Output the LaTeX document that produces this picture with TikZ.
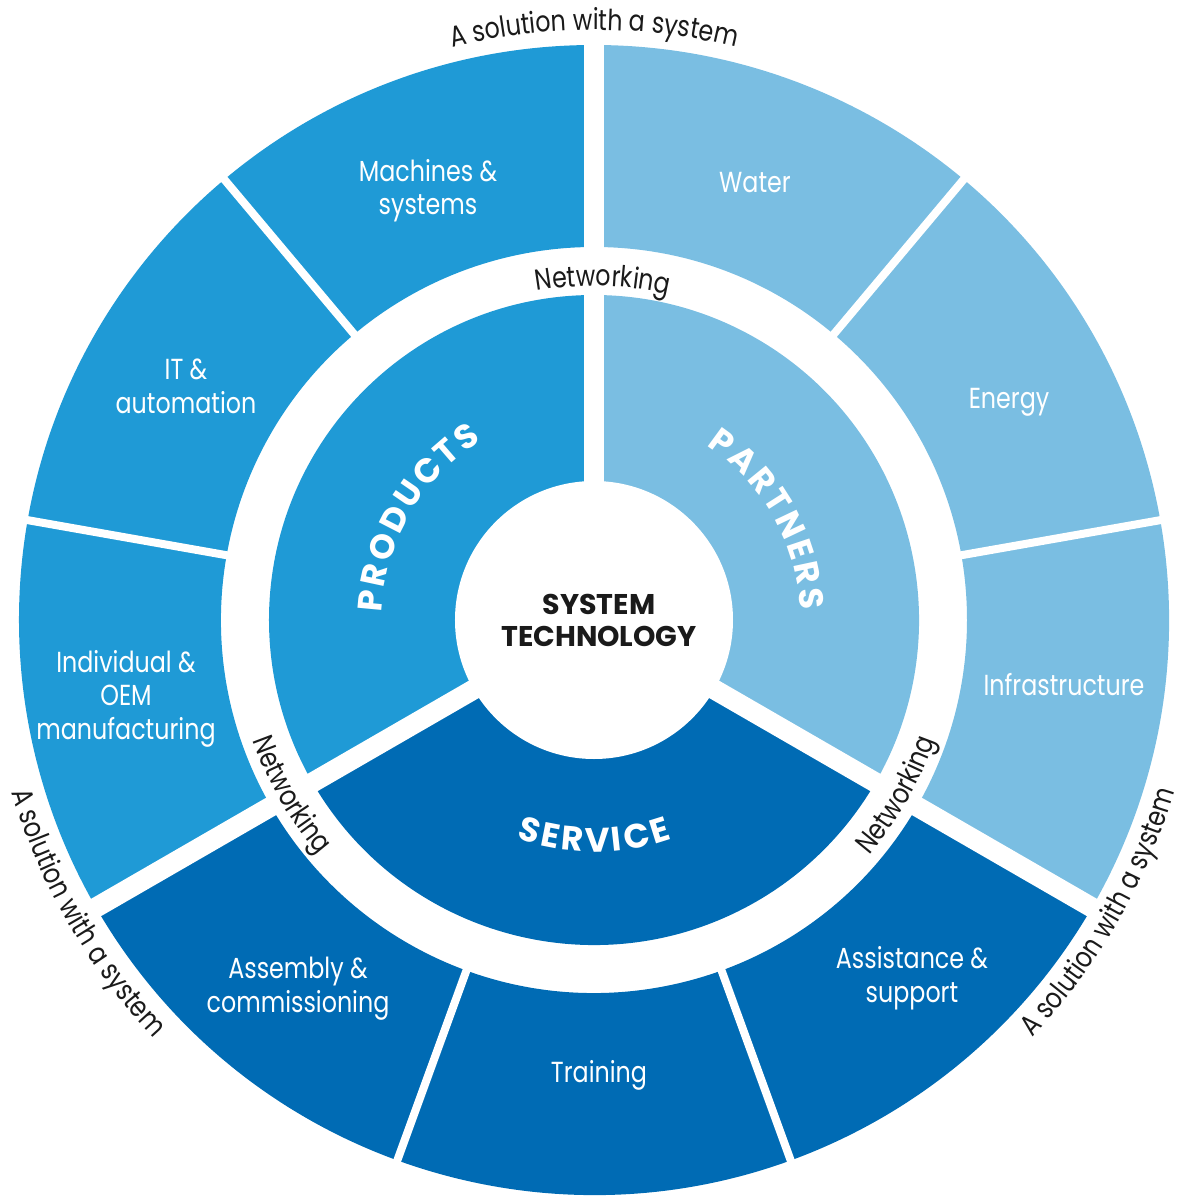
\documentclass[tikz,border=0pt]{standalone}
\usepackage{fontspec}
\setmainfont{Poppins}[FakeStretch=0.82]
\newfontfamily\headfam{Poppins}
\usetikzlibrary{decorations.text}
\definecolor{prodblue}{HTML}{1F9AD6}
\definecolor{partblue}{HTML}{7ABEE2}
\definecolor{servblue}{HTML}{006BB4}
\definecolor{inkblack}{HTML}{1A1A1A}
\newcommand\lbfont{\fontsize{29bp}{33.5bp}\selectfont}
\newcommand\hdfont{\headfam\fontsize{34bp}{38bp}\selectfont\bfseries}
\newcommand\ctfont{\headfam\fontsize{28.5bp}{32bp}\selectfont\bfseries}
\begin{document}
\begin{tikzpicture}[x=1bp,y=1bp,
  seglabel/.style={text=white, font=\lbfont, align=center, anchor=base, inner sep=0pt},
  curvetext/.style={decorate, decoration={text along path, text align=center, text color=inkblack, text={#1}}},
  headtext/.style={decorate, decoration={text along path, text align=center, text color=white, text={#1}}},
  gapmain/.style={white, line width=20bp},
  gapminor/.style={white, line width=8bp}]
\useasboundingbox (-594,-577) rectangle (590,620);
% inner ring sectors
\fill[prodblue] (90:325bp) arc[start angle=90,end angle=210,radius=325bp] -- (0,0) -- cycle;
\fill[partblue] (-30:325bp) arc[start angle=-30,end angle=90,radius=325bp] -- (0,0) -- cycle;
\fill[servblue] (210:325bp) arc[start angle=210,end angle=330,radius=325bp] -- (0,0) -- cycle;
% outer ring sectors
\fill[prodblue] (90:373bp) -- (90:575bp) arc[start angle=90,end angle=210,radius=575bp] -- (210:373bp) arc[start angle=210,end angle=90,radius=373bp] -- cycle;
\fill[partblue] (-30:373bp) -- (-30:575bp) arc[start angle=-30,end angle=90,radius=575bp] -- (90:373bp) arc[start angle=90,end angle=-30,radius=373bp] -- cycle;
\fill[servblue] (210:373bp) -- (210:575bp) arc[start angle=210,end angle=330,radius=575bp] -- (330:373bp) arc[start angle=330,end angle=210,radius=373bp] -- cycle;
% separators
\foreach \a in {90,210,330} \draw[gapmain] (0,0) -- (\a:580bp);
\foreach \a in {10,50,130,170,250,290} \draw[gapminor] (\a:365bp) -- (\a:580bp);
% centre
\fill[white] (0,0) circle[radius=139bp];
\node[font=\ctfont, text=inkblack, align=center, inner sep=0pt] (centre) at (5,0) {SYSTEM\\TECHNOLOGY};
% segment labels (base = baseline of last line)
\node[seglabel] (machines) at (-166,405) {Machines \&\\systems};
\node[seglabel] (water) at (161,427) {Water};
\node[seglabel] (itauto) at (-408,207) {IT \&\\automation};
\node[seglabel] (energy) at (415,212) {Energy};
\node[seglabel] (oem) at (-468,-119) {Individual \&\\OEM\\manufacturing};
\node[seglabel] (infra) at (470,-75) {Infrastructure};
\node[seglabel] (assembly) at (-296,-392) {Assembly \&\\commissioning};
\node[seglabel] (training) at (5,-462) {Training};
\node[seglabel] (assist) at (318,-382) {Assistance \&\\support};
% sector headings
\path[headtext={|\hdfont|{P\kern3bp}{R\kern3bp}{O\kern3bp}{D\kern3bp}{U\kern3bp}{C\kern3bp}{T\kern3bp}S}] (190:212bp) arc[start angle=190,end angle=110,radius=212bp];
\path[headtext={|\hdfont|{P\kern3bp}{A\kern3bp}{R\kern3bp}{T\kern3bp}{N\kern3bp}{E\kern3bp}{R\kern3bp}S}] (70:207bp) arc[start angle=70,end angle=-10,radius=207bp];
\path[headtext={|\hdfont|{S\kern3bp}{E\kern3bp}{R\kern3bp}{V\kern3bp}{I\kern3bp}{C\kern3bp}E}] (235:232bp) arc[start angle=235,end angle=305,radius=232bp];
% networking
\path[curvetext={|\lbfont|Networking}] (116.5:334bp) arc[start angle=116.5,end angle=60.5,radius=334bp];
\path[curvetext={|\lbfont|Networking}] (182:362bp) arc[start angle=182,end angle=238,radius=362bp];
\path[curvetext={|\lbfont|Networking}] (302:362bp) arc[start angle=302,end angle=358,radius=362bp];
% outer texts
\path[curvetext={|\lbfont|A solution with a system}] (125:590bp) arc[start angle=125,end angle=55,radius=590bp];
\path[curvetext={|\lbfont|A solution with a system}] (175:607bp) arc[start angle=175,end angle=245,radius=607bp];
\path[curvetext={|\lbfont|A solution with a system}] (295:605bp) arc[start angle=295,end angle=365,radius=605bp];
\end{tikzpicture}
\end{document}
